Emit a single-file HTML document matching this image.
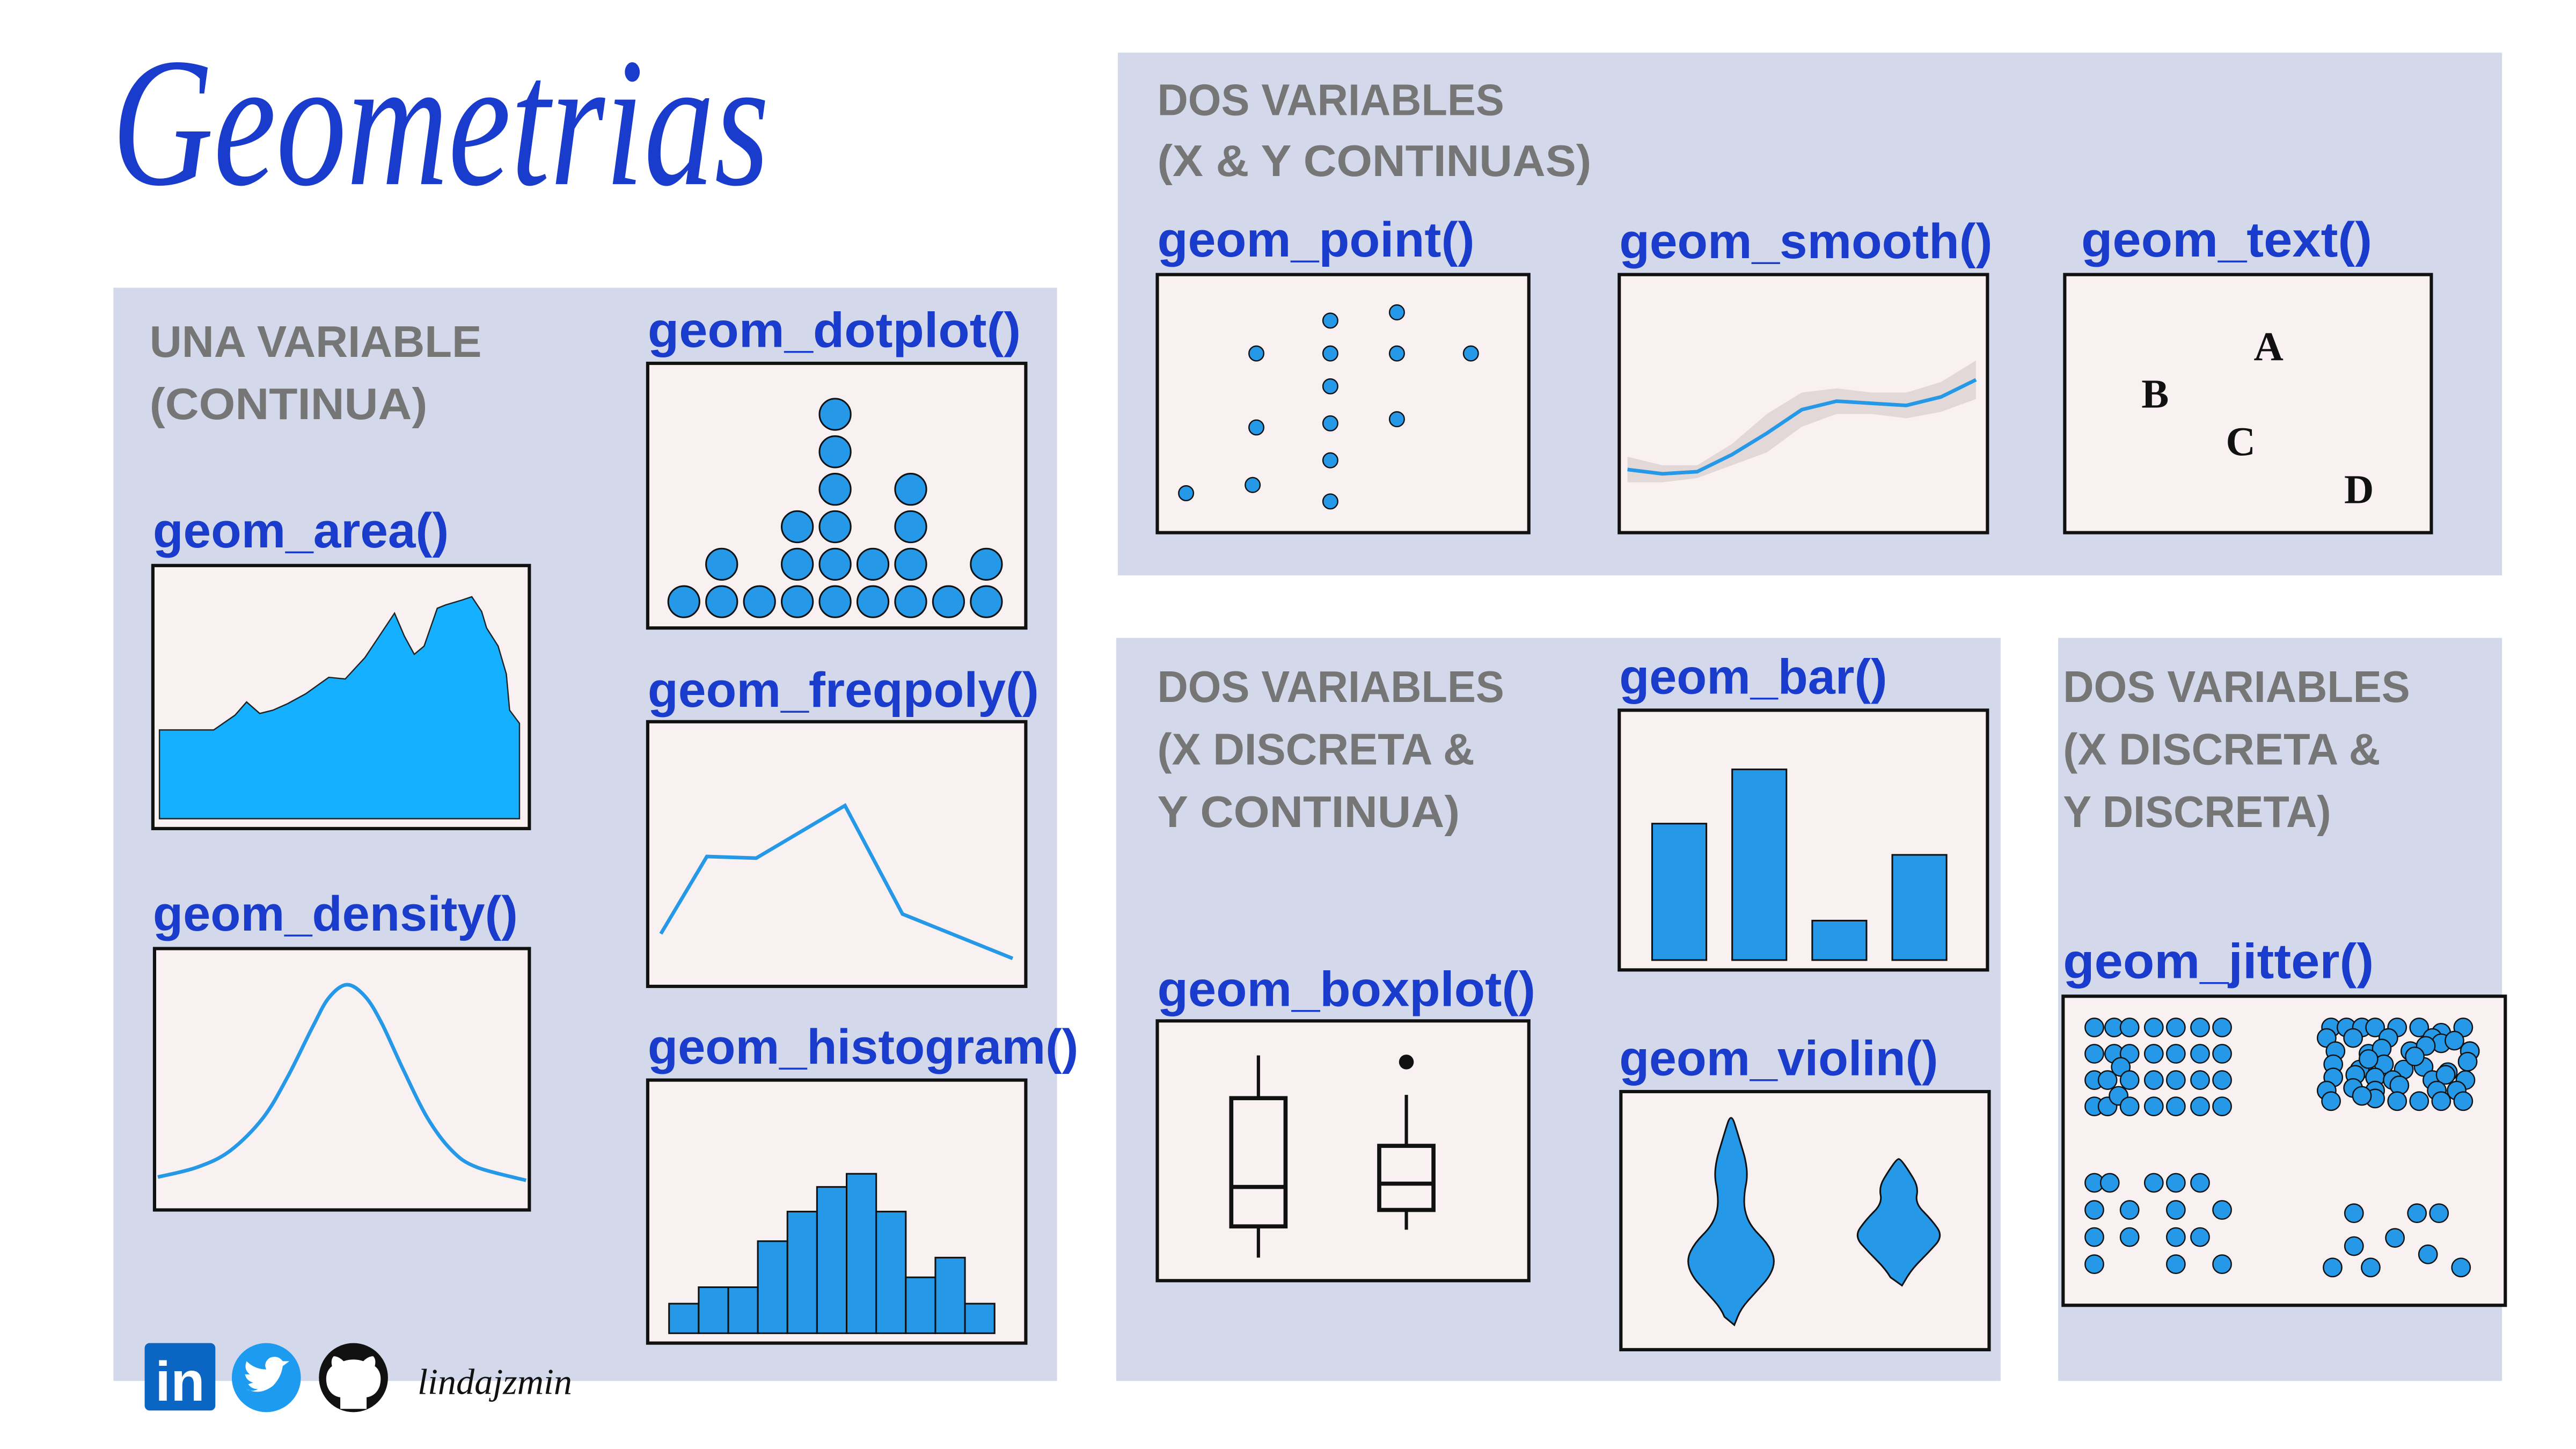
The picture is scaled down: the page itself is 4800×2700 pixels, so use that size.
<!DOCTYPE html>
<html><head><meta charset="utf-8"><style>
html,body{margin:0;padding:0;background:#fff;}
svg{display:block;}
.lbl{font-family:"Liberation Sans",sans-serif;font-weight:bold;fill:#1a3ccc;font-size:30px;}
.hd{font-family:"Liberation Sans",sans-serif;font-weight:bold;fill:#767676;font-size:27px;}
.plot{fill:#f9f1f1;stroke:#111;stroke-width:2;}
</style></head><body>
<svg id="root" width="4800" height="2700" viewBox="0 0 1567 881.4" xmlns="http://www.w3.org/2000/svg">
<rect x="0" y="0" width="1567" height="882" fill="#fff"/>
<text x="68" y="112" font-family="Liberation Serif,serif" font-style="italic" font-size="112" fill="#1a3ccc" textLength="400" lengthAdjust="spacingAndGlyphs">Geometrias</text>
<rect x="69" y="175" width="574" height="665" fill="#d3d9eb"/>
<rect x="680" y="32" width="842" height="318" fill="#d3d9eb"/>
<rect x="679" y="388" width="538" height="452" fill="#d3d9eb"/>
<rect x="1252" y="388" width="270" height="452" fill="#d3d9eb"/>

<text class="hd" x="91" y="217" textLength="202" lengthAdjust="spacingAndGlyphs">UNA VARIABLE</text>
<text class="hd" x="91" y="255" textLength="169" lengthAdjust="spacingAndGlyphs">(CONTINUA)</text>
<text class="hd" x="704" y="70" textLength="211" lengthAdjust="spacingAndGlyphs">DOS VARIABLES</text>
<text class="hd" x="704" y="107" textLength="264" lengthAdjust="spacingAndGlyphs">(X &amp; Y CONTINUAS)</text>
<text class="hd" x="704" y="427" textLength="211" lengthAdjust="spacingAndGlyphs">DOS VARIABLES</text>
<text class="hd" x="704" y="465" textLength="193" lengthAdjust="spacingAndGlyphs">(X DISCRETA &amp;</text>
<text class="hd" x="704" y="503" textLength="184" lengthAdjust="spacingAndGlyphs">Y CONTINUA)</text>
<text class="hd" x="1255" y="427" textLength="211" lengthAdjust="spacingAndGlyphs">DOS VARIABLES</text>
<text class="hd" x="1255" y="465" textLength="193" lengthAdjust="spacingAndGlyphs">(X DISCRETA &amp;</text>
<text class="hd" x="1255" y="503" textLength="163" lengthAdjust="spacingAndGlyphs">Y DISCRETA)</text>

<text class="lbl" x="394" y="211" textLength="227" lengthAdjust="spacingAndGlyphs">geom_dotplot()</text>
<text class="lbl" x="93" y="333" textLength="180" lengthAdjust="spacingAndGlyphs">geom_area()</text>
<text class="lbl" x="394" y="430" textLength="238" lengthAdjust="spacingAndGlyphs">geom_freqpoly()</text>
<text class="lbl" x="93" y="566" textLength="222" lengthAdjust="spacingAndGlyphs">geom_density()</text>
<text class="lbl" x="394" y="647" textLength="262" lengthAdjust="spacingAndGlyphs">geom_histogram()</text>
<text class="lbl" x="704" y="156" textLength="193" lengthAdjust="spacingAndGlyphs">geom_point()</text>
<text class="lbl" x="985" y="157" textLength="227" lengthAdjust="spacingAndGlyphs">geom_smooth()</text>
<text class="lbl" x="1266" y="156" textLength="177" lengthAdjust="spacingAndGlyphs">geom_text()</text>
<text class="lbl" x="985" y="422" textLength="163" lengthAdjust="spacingAndGlyphs">geom_bar()</text>
<text class="lbl" x="704" y="612" textLength="230" lengthAdjust="spacingAndGlyphs">geom_boxplot()</text>
<text class="lbl" x="985" y="654" textLength="194" lengthAdjust="spacingAndGlyphs">geom_violin()</text>
<text class="lbl" x="1255" y="595" textLength="189" lengthAdjust="spacingAndGlyphs">geom_jitter()</text>

<rect class="plot" x="93" y="344" width="229" height="160"/>
<rect class="plot" x="94" y="577" width="228" height="159"/>
<rect class="plot" x="394" y="221" width="230" height="161"/>
<rect class="plot" x="394" y="439" width="230" height="161"/>
<rect class="plot" x="394" y="657" width="230" height="160"/>
<rect class="plot" x="704" y="167" width="226" height="157"/>
<rect class="plot" x="985" y="167" width="224" height="157"/>
<rect class="plot" x="1256" y="167" width="223" height="157"/>
<rect class="plot" x="985" y="432" width="224" height="158"/>
<rect class="plot" x="704" y="621" width="226" height="158"/>
<rect class="plot" x="986" y="664" width="224" height="157"/>
<rect class="plot" x="1255" y="606" width="269" height="188"/>

<g id="marks"></g>

<rect x="88" y="817" width="43" height="41" rx="3" fill="#0a66c2"/>
<text x="109.5" y="852" text-anchor="middle" font-family="Liberation Sans,sans-serif" font-weight="bold" font-size="34" fill="#fff">in</text>
<circle cx="162" cy="838" r="21" fill="#1d9bf0"/>
<path d="M150 845 q8 4 16 -2 q5 -5 6 -12 l4 -3 l-4 0 q-3 -4 -8 -2 q-4 3 -2 7 q-7 0 -12 -5 q-2 5 2 8 l-3 0 q1 4 5 5 l-3 1 q2 3 6 3 q-4 2 -7 0z" fill="#fff"/>
<circle cx="215" cy="838" r="21" fill="#111"/>
<path d="M207 857 v-7 q-6 -1 -8 -7 q-2 -8 3 -12 q-1 -4 1 -6 q3 0 6 3 q6 -2 12 0 q3 -3 6 -3 q2 2 1 6 q5 4 3 12 q-2 6 -8 7 v7z" fill="#fff"/>
<text x="254" y="848" font-family="Liberation Serif,serif" font-style="italic" font-size="22" fill="#111" textLength="94" lengthAdjust="spacingAndGlyphs">lindajzmin</text>
</svg>
<script>
// ---------- data ----------
const areaX = [0,33,46,53,61,69,78,89,103,113,125,135,143,149,155,161,169,174,184,190,196,199,206,211,213,219];
const areaY = [54,54,63,71,64,66,70,76,86,85,98,113,125,111,100,105,128,130,133,135,126,116,105,88,66,58];
const densX = [0,24,44,64,79,94,104,115,126,136,149,164,179,194,224];
const densY = [2,8,18,38,63,93,111,119,112,96,68,38,18,8,0];
const dotCounts = [1,2,1,3,6,2,4,1,2];
const freqX = [0,28,58,112,147,214];
const freqY = [32,79,78,110,44,17];
const histCounts = [18,28,28,56,74,89,97,74,34,46,18];
const pointX = [1,10,10.5,10.5,20.5,20.5,20.5,20.5,20.5,20.5,29.5,29.5,29.5,39.5];
const pointY = [2,3,10,19,23,19,15,10.5,6,1,24,19,11,19];
const smoothX = [0,10,20,30,40,50,60,70,80,90,100];
const smoothY = [8,6,7,15,25,36,40,39,38,42,50];
const smoothSE = [6,4,3,5,9,8,6,5,6,7,9];
const textLabels = ['A','B','C','D'];
const textX = [124,55,107,179];
const textY = [114,85,56,27];
const barCats = ['a','b','c','d'];
const barVals = [83,116,24,64];
const boxStats = [[14,33,57,111,137],[31,43,59,82,113]];
const boxOutliers = [[],[133]];
const violinY = [[0,10,20,30,40,50,60,70,80,90,100,110,120,126],[0,10,20,30,40,50,60,70,77]];
const violinW = [[2,6,15,24,27,22,12,8,8,10,9,6,3,1],[2,8,18,27,20,10,12,6,1]];
const violinCenter = [0,1];
const jitterX = [
 [0,0.9,1.6,2.7,3.7,4.8,5.8,0,0.9,1.6,2.7,3.7,4.8,5.8,0,0.6,1.2,1.6,2.7,3.7,4.8,5.8,0,0.6,1.1,1.6,2.7,3.7,4.8,5.8],
 [0,0.7,2.7,3.7,4.8,0,1.6,3.7,5.8,0,1.6,3.7,4.8,0,3.7,5.8],
 [0,0.7,1.4,2,3,4,5,6,-0.2,1,2.6,4.6,6.3,0.2,1.7,2.3,3.6,5,6.3,0.1,1.3,2.4,3.3,4.2,5.3,6.2,0.1,1.1,2,2.8,4.6,5.2,6.1,-0.2,1,2,3.1,4.8,5.7,0,2,3,4,5,6,1.7,4.3,3.8,1.4,5.6],
 [1.04,3.9,4.9,1.04,2.9,4.4,0.07,1.8,5.9]];
const jitterY = [
 [3,3,3,3,3,3,3,2,2,2,2,2,2,2,1,1,1.5,1,1,1,1,1,0,0,0.4,0,0,0,0,0],
 [3,3,3,3,3,2,2,2,2,1,1,1,1,0,0,0],
 [3,3,3,3,3,3,2.8,3,2.6,2.6,2.6,2.6,2.1,2.1,2,2.2,2.1,2.4,2.1,1.6,1.4,1.6,1.4,1.5,1.3,1.7,1.1,1.2,1.1,1,1,1.2,1,0.6,0.7,0.6,0.8,0.6,0.6,0.2,0.3,0.2,0.2,0.2,0.2,1.8,2.3,1.9,0.4,2.5],
 [1.65,1.65,1.65,0.65,0.9,0.4,0,0,0]];
// ---------- drawing ----------
const NS = 'http://www.w3.org/2000/svg';
const G = document.getElementById('marks');
function mk(tag, attrs){const e=document.createElementNS(NS,tag);for(const k in attrs)e.setAttribute(k,attrs[k]);G.appendChild(e);return e;}
const BLUE='#2599e8', AREA='#15b0ff';
let el;
// area
{const sx=v=>97+v, sy=v=>498-v;
 let d='M'+sx(areaX[0])+' '+sy(0);
 areaX.forEach((x,i)=>d+=' L'+sx(x)+' '+sy(areaY[i]));
 d+=' L'+sx(areaX[areaX.length-1])+' '+sy(0)+'Z';
 el=mk('path',{d:d,fill:AREA,stroke:'#222','stroke-width':0.8});
 
 }
// density
{const sx=v=>96+v, sy=v=>718-v;
 let pts=densX.map((x,i)=>[sx(x),sy(densY[i])]);
 let d='M'+pts[0][0]+' '+pts[0][1];
 for(let i=0;i<pts.length-1;i++){const p0=pts[Math.max(0,i-1)],p1=pts[i],p2=pts[i+1],p3=pts[Math.min(pts.length-1,i+2)];
  d+=' C'+(p1[0]+(p2[0]-p0[0])/6)+' '+(p1[1]+(p2[1]-p0[1])/6)+' '+(p2[0]-(p3[0]-p1[0])/6)+' '+(p2[1]-(p3[1]-p1[1])/6)+' '+p2[0]+' '+p2[1];}
 el=mk('path',{d:d,fill:'none',stroke:BLUE,'stroke-width':2.2});
 
 }
// dotplot
dotCounts.forEach((c,i)=>{for(let j=0;j<c;j++){
 el=mk('circle',{cx:416+i*23,cy:366-j*22.8,r:9.5,fill:BLUE,stroke:'#111','stroke-width':1});
 
 }});
// freqpoly
{el=mk('polyline',{points:freqX.map((x,i)=>(402+x)+','+(600-freqY[i])).join(' '),fill:'none',stroke:BLUE,'stroke-width':2.2});
 
 }
// histogram
histCounts.forEach((h,i)=>{
 el=mk('rect',{x:407+i*18,y:811-h,width:18,height:h,fill:BLUE,stroke:'#111','stroke-width':1});
 
 });
// point
pointX.forEach((x,i)=>{
 el=mk('circle',{cx:717+x*4.5,cy:310-pointY[i]*5,r:4.5,fill:BLUE,stroke:'#111','stroke-width':0.8});
 
 });
// smooth
{const sx=v=>990+v*2.12, sy=v=>296-v*1.3;
 const up=smoothX.map((x,i)=>sx(x)+','+sy(smoothY[i]+smoothSE[i]));
 const lo=smoothX.map((x,i)=>sx(x)+','+sy(smoothY[i]-smoothSE[i])).reverse();
 el=mk('polygon',{points:up.concat(lo).join(' '),fill:'#e3d8d8'});
 
 
 el=mk('polyline',{points:smoothX.map((x,i)=>sx(x)+','+sy(smoothY[i])).join(' '),fill:'none',stroke:BLUE,'stroke-width':2.2});
 
 }
// text
textLabels.forEach((t,i)=>{
 el=mk('text',{x:1256+textX[i],y:324-textY[i]+9,'text-anchor':'middle','font-family':'Liberation Serif,serif','font-weight':'bold','font-size':25,fill:'#111'});
 el.textContent=t;
 
 });
// bar
barVals.forEach((v,i)=>{
 el=mk('rect',{x:1005+i*48.7,y:584-v,width:33,height:v,fill:BLUE,stroke:'#111','stroke-width':1});
 
 });
// boxplot
boxStats.forEach((s,i)=>{const cx=765.5+i*90, sy=v=>779-v;
 el=mk('line',{x1:cx,x2:cx,y1:sy(s[0]),y2:sy(s[4]),stroke:'#111','stroke-width':2});
 
 
 el=mk('rect',{x:cx-16.5,y:sy(s[3]),width:33,height:s[3]-s[1],fill:'#f9f1f1',stroke:'#111','stroke-width':2.5});
 
 
 el=mk('line',{x1:cx-16.5,x2:cx+16.5,y1:sy(s[2]),y2:sy(s[2]),stroke:'#111','stroke-width':2.5});
 
 
 boxOutliers[i].forEach(o=>{
  el=mk('circle',{cx:cx,cy:sy(o),r:4.5,fill:'#111'});
  
  });});
// violin
violinCenter.forEach((c,i)=>{const cx=1053+c*102, base=i==0?806:782;
 const R=violinY[i].map((y,j)=>[cx+violinW[i][j],base-y]);
 const L=violinY[i].map((y,j)=>[cx-violinW[i][j],base-y]).reverse();
 const pts=R.concat(L);
 let d='M'+pts[0].join(' ');
 for(let k=1;k<pts.length;k++){const a=pts[k-1],b=pts[k];d+=' Q'+a[0]+' '+a[1]+' '+((a[0]+b[0])/2)+' '+((a[1]+b[1])/2);}
 d+='Z';
 el=mk('path',{d:d,fill:BLUE,stroke:'#111','stroke-width':1});
 
 });
// jitter
const jOrig=[[1274,673],[1274,769],[1418,673],[1418,771]];
jitterX.forEach((xs,g)=>{xs.forEach((x,i)=>{
 const dy=g==1?16.5:(g==3?20:16);
 el=mk('circle',{cx:jOrig[g][0]+x*13.4,cy:jOrig[g][1]-jitterY[g][i]*dy,r:5.6,fill:BLUE,stroke:'#111','stroke-width':0.8});
 
 });});
</script>
</body></html>
